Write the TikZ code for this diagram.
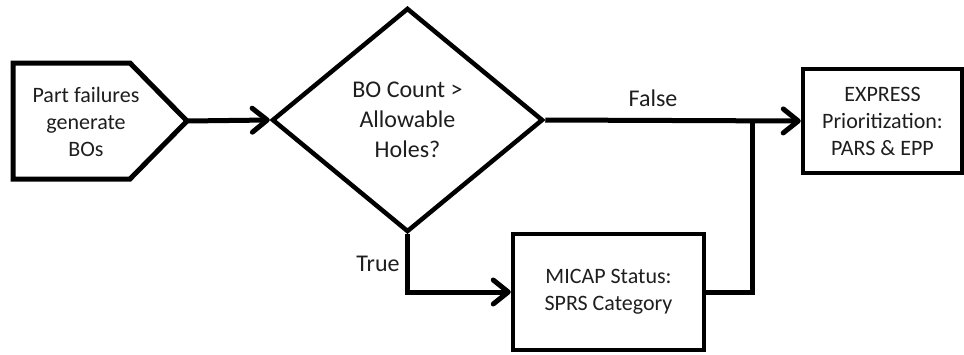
\documentclass[tikz,border=0pt]{standalone}
\usepackage{fontspec}
\setmainfont{Carlito}
\usetikzlibrary{shapes.geometric,arrows.meta}
\definecolor{txt}{HTML}{1E1E1E}
\begin{document}
\begin{tikzpicture}[x=1pt,y=-1pt,
  shapeline/.style={draw=black,line width=4.5pt,line join=miter},
  boxtext/.style={text=txt,align=center,font=\fontsize{22}{27}\selectfont},
  bigtext/.style={text=txt,align=center,font=\fontsize{24}{30}\selectfont},
  procbox/.style={shapeline,rectangle,inner sep=0pt,boxtext},
  conn/.style={draw=black,line width=5pt,line join=miter},
  arr/.style={conn,-{Straight Barb[length=15pt,width=24pt,line cap=round,line join=round]}}
]
\useasboundingbox (0,0) rectangle (964,354);
% start pentagon
\draw[shapeline,line width=5pt] (13,63) -- (130,63) -- (187,121) -- (130,179) -- (13,179) -- cycle;
\node[boxtext] (pf) at (86,122) {Part failures\\generate\\BOs};
\coordinate (pftip) at (187,121);
% decision
\node[shapeline,diamond,inner sep=0pt,minimum width=271pt,minimum height=224pt,aspect=1.21,bigtext] (dec) at (407.5,120) {BO Count >\\Allowable\\Holes?};
% boxes
\node[procbox,minimum width=159pt,minimum height=104pt] (exp) at (882.5,121) {EXPRESS\\Prioritization:\\PARS \& EPP};
\node[procbox,minimum width=191pt,minimum height=116pt] (mic) at (608.5,292) {MICAP Status:\\SPRS Category};
\coordinate (jn) at (752.5,121);
% connectors
\draw[arr] (pftip) -- (dec.west);
\draw[arr] (dec.east) -- (exp.west);
\draw[arr] (dec.south) |- (mic.west);
\draw[conn] (mic.east) -| (jn);
% labels
\node[bigtext] (lfalse) at (653,98) {False};
\node[bigtext] (ltrue) at (378,264) {True};
\end{tikzpicture}
\end{document}
